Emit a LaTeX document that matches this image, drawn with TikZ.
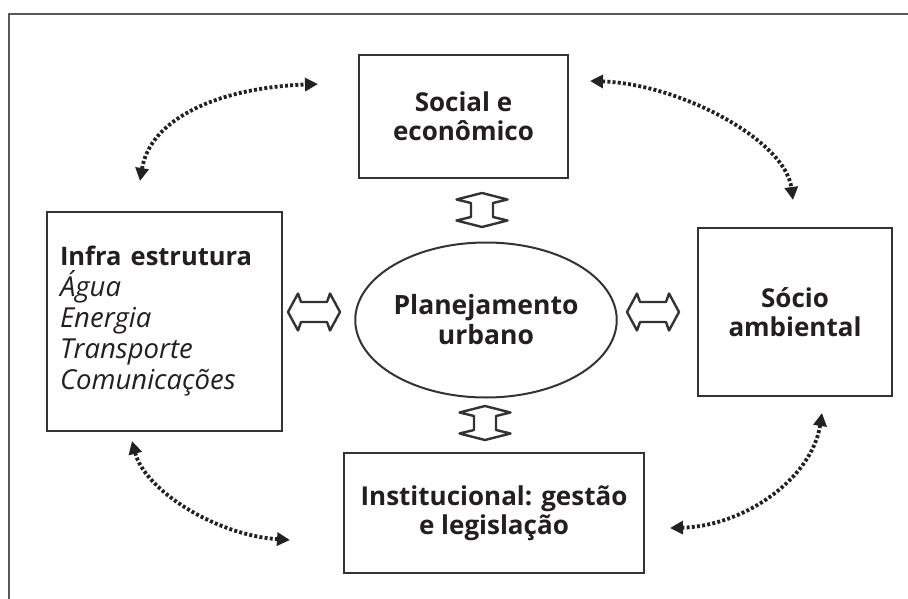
\documentclass[tikz,border=0pt]{standalone}
\usepackage{fontspec}
\setmainfont{Open Sans}
\usetikzlibrary{arrows.meta,shapes.geometric}
\definecolor{ink}{HTML}{231F20}
\definecolor{boxline}{HTML}{333333}
\definecolor{dotcol}{HTML}{222222}
\definecolor{framecol}{HTML}{5A5A5A}
\tikzset{
  box/.style={draw=boxline, line width=2.6pt, rectangle, inner sep=0pt, text=ink, align=center, font=\bfseries\fontsize{26}{29.5}\selectfont},
  oval/.style={draw=boxline, line width=2pt, ellipse, inner sep=0pt, text=ink, align=center, font=\bfseries\fontsize{26.5}{30}\selectfont},
  dotarrow/.style={draw=dotcol, line width=3.8pt, dash pattern=on 3pt off 2.2pt, {Triangle[length=13pt,width=13pt]}-{Triangle[length=13pt,width=13pt]}},
  hollow/.style={draw=boxline, fill=white, line width=2.4pt, line join=round},
  varrow/.pic={\path[hollow] (0,-17) -- (-25.5,-10.5) -- (-11,-7) -- (-11,7) -- (-25.5,10.5) -- (0,17) -- (25.5,10.5) -- (11,7) -- (11,-7) -- (25.5,-10.5) -- cycle;},
  harrow/.pic={\path[hollow] (-26,0) -- (-16,-18.5) -- (-13,-10) -- (13,-10) -- (16,-18.5) -- (26,0) -- (16,18.5) -- (13,10) -- (-13,10) -- (-16,18.5) -- cycle;}
}
\begin{document}
\begin{tikzpicture}[x=1pt,y=-1pt]
\useasboundingbox[fill=white] (0,0) rectangle (908,599);
% outer frame
\draw[framecol, line width=1.3pt] (9,599) -- (9,14) -- (908,14);

% boxes
\node[box, minimum width=209pt, minimum height=123pt] (soc) at (463.5,116.5) {Social e\\econômico};
\node[box, minimum height=219pt, text width=209pt, inner xsep=13pt, align=left, font=\fontsize{27.5}{31}\selectfont] (inf) at (164.5,321.5)
  {{\bfseries\fontsize{25.5}{31}\selectfont Infra estrutura}\\\textit{Água}\\\textit{Energia}\\\textit{Transporte}\\\textit{Comunicações}};
\node[box, minimum width=194pt, minimum height=168pt] (amb) at (795,312) {Sócio\\ambiental};
\node[box, minimum width=300pt, minimum height=120pt] (ins) at (494,513) {Institucional: gestão\\e legislação};
\node[oval, minimum width=254pt, minimum height=155pt] (pla) at (486,320) {Planejamento\\urbano};

% hollow double arrows
\pic at (482,210) {varrow};
\pic at (485,423) {varrow};
\pic at (314,312) {harrow};
\pic at (653,312) {harrow};

% dotted curved arrows
\coordinate (tlA) at (140,181);
\coordinate (tlB) at (318,84);
\coordinate (trA) at (590,81);
\coordinate (trB) at (793,200);
\coordinate (blA) at (132,441);
\coordinate (blB) at (290,540);
\coordinate (brA) at (822,413);
\coordinate (brB) at (670,528);
\draw[dotarrow] (tlA) .. controls (150,120) and (215,88) .. (tlB);
\draw[dotarrow] (trA) .. controls (680,84) and (785,140) .. (trB);
\draw[dotarrow] (blA) .. controls (145,490) and (215,535) .. (blB);
\draw[dotarrow] (brA) .. controls (812,478) and (745,526) .. (brB);
\end{tikzpicture}
\end{document}
